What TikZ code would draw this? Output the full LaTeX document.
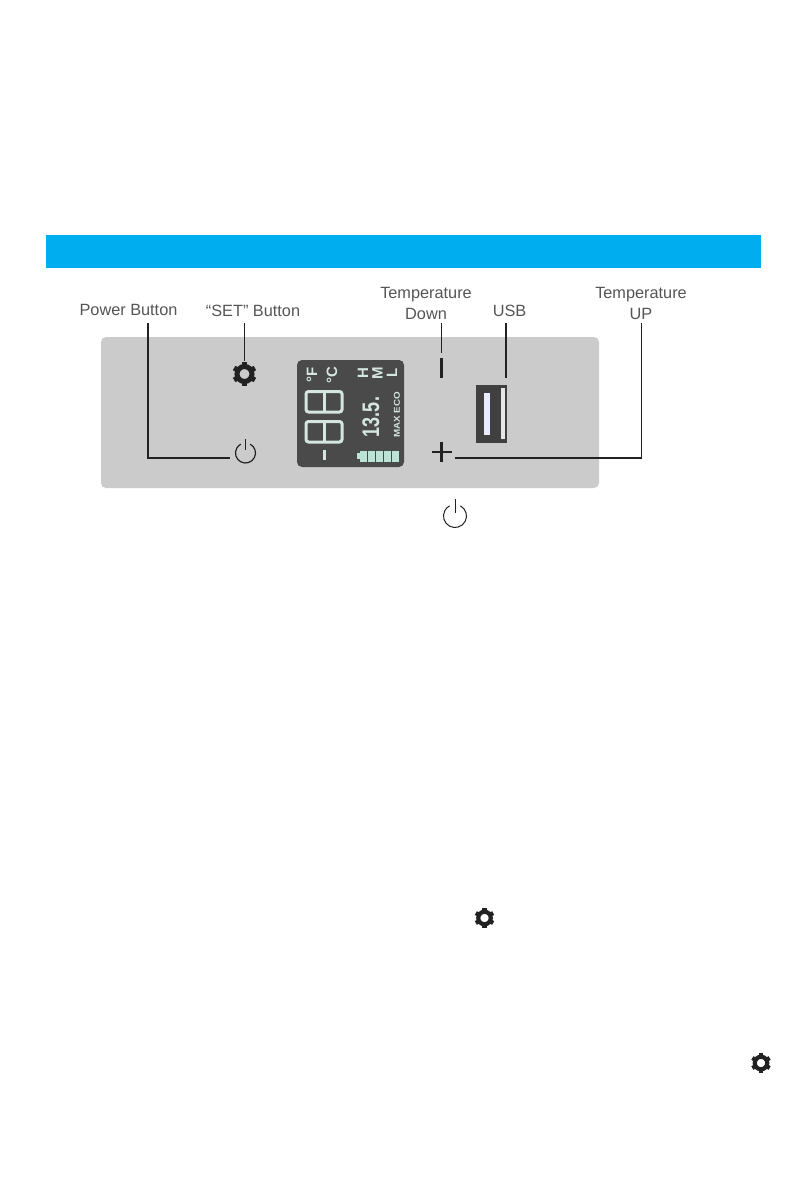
\documentclass[tikz,border=0pt]{standalone}
\usepackage{fontspec}
\setmainfont{Liberation Sans}
\usetikzlibrary{positioning, calc}

\definecolor{barblue}{HTML}{00AEEF}
\definecolor{panelgray}{HTML}{CBCBCB}
\definecolor{lcdgray}{HTML}{4A4A4A}
\definecolor{lcdlight}{HTML}{D5E6E0}
\definecolor{lcdgreen}{HTML}{BDE3D6}
\definecolor{labelgray}{HTML}{555555}
\definecolor{leadblack}{HTML}{222222}

\tikzset{
    btnlabel/.style={text=labelgray, font=\fontsize{16.3}{21}\selectfont, align=center, inner sep=0pt},
    leader/.style={draw=leadblack, line width=1.8pt},
    lcdtext/.style={text=lcdlight, rotate=90, inner sep=0pt},
    lcdseg/.style={draw=lcdlight, line width=3pt, rounded corners=2.5pt},
    iconspot/.style={circle, inner sep=0pt, outer sep=0pt}
}

% gear: name, position, outer radius
\newcommand{\gearicon}[3]{
    \node[iconspot, draw=leadblack, line width=#3*0.42pt, minimum size=#3*1.25pt] (#1) at (#2) {};
    \foreach \a in {30,90,...,330}
        \draw[leadblack, line width=#3*0.42pt] ($(#1)+(\a:#3*0.72)$) -- ($(#1)+(\a:#3)$);
}
% power symbol: name, position, radius, stem top, line width
\newcommand{\powericon}[5]{
    \node[iconspot, minimum size=#3*2pt] (#1) at (#2) {};
    \draw[leadblack, line width=#5] (#1.62) arc[start angle=62, end angle=-242, radius=#3*1pt];
    \draw[leadblack, line width=#5] ($(#1)+(0,-#4)$) -- ($(#1)+(0,-#3*0.3)$);
}

\begin{document}
\begin{tikzpicture}[x=1pt, y=-1pt]
    \useasboundingbox (0,0) rectangle (806,1185);

    % Title bar and panel
    \node[fill=barblue, minimum width=715pt, minimum height=33pt, inner sep=0pt] (titleBar) at (403.5,251.5) {};
    \node[fill=panelgray, rounded corners=5pt, minimum width=498pt, minimum height=151pt, inner sep=0pt] (panel) at (350,412.5) {};

    % Display
    \node[fill=lcdgray, rounded corners=5pt, minimum width=107pt, minimum height=107pt, inner sep=0pt] (lcd) at (350.5,413.5) {};
    \node[lcdtext, font=\bfseries\fontsize{15}{15}\selectfont] (unitF) at (312,375) {°F};
    \node[lcdtext, font=\bfseries\fontsize{15}{15}\selectfont] (unitC) at (332,375) {°C};
    \node[lcdtext, font=\bfseries\fontsize{15}{15}\selectfont] (levelH) at (363,373) {H};
    \node[lcdtext, font=\bfseries\fontsize{15}{15}\selectfont] (levelM) at (377.5,373) {M};
    \node[lcdtext, font=\bfseries\fontsize{15}{15}\selectfont] (levelL) at (392,373) {L};
    \node[lcdtext, font=\bfseries\fontsize{24}{24}\selectfont, xscale=0.75] (voltage) at (371,417) {13.5.};
    \node[lcdtext, font=\bfseries\fontsize{8.5}{9}\selectfont, xscale=1.15] (modeText) at (397,415) {MAX ECO};

    % Display digits
    \foreach \y in {390,420} {
        \draw[lcdseg] (306,\y+1.5) rectangle (342,\y+22);
        \draw[lcdseg] (324,\y+1.5) -- (324,\y+22);
    }

    % Battery
    \fill[lcdlight] (323,450) rectangle (326,460);
    \fill[lcdgreen] (357,453) rectangle (360,459);
    \foreach \x in {360,368,...,392}
        \fill[lcdgreen] (\x,450.5) rectangle (\x+6.5,461.5);

    % Buttons
    \gearicon{setBtn}{244.5,374}{12}
    \powericon{powerBtn}{245.5,453}{10}{14}{1.2pt}
    \node[iconspot, minimum size=22pt] (plusBtn) at (441.5,452) {};
    \draw[leadblack, line width=2.6pt] (431.5,452) -- (451.5,452);
    \draw[leadblack, line width=2.6pt] (441.5,442) -- (441.5,462);
    \node[iconspot, minimum width=3pt, minimum height=20pt, rectangle, fill=leadblack] (minusBtn) at (441.5,368) {};

    % USB port
    \node[fill=black!75, minimum width=31pt, minimum height=58pt, inner sep=0pt] (usbPort) at (491.5,414) {};
    \fill[black!75] (490,392) rectangle (500,436);
    \fill[white!92!blue] (483.5,393) rectangle (490,435);
    \fill[white!90!black] (500.5,388) rectangle (505,439);

    % Labels
    \node[btnlabel] (powerLabel) at (128.5,310) {Power Button};
    \node[btnlabel] (setLabel) at (253,311) {“SET” Button};
    \node[btnlabel] (downLabel) at (426,303.5) {Temperature\\Down};
    \node[btnlabel] (usbLabel) at (509.5,311) {USB};
    \node[btnlabel] (upLabel) at (641,303.5) {Temperature\\UP};

    % Leader ends
    \coordinate (powerTop) at (148,323);
    \coordinate (powerEnd) at (230,458);
    \coordinate (setTop) at (244.5,323);
    \coordinate (setEnd) at (244.5,361);
    \coordinate (downTop) at (441.5,323);
    \coordinate (downEnd) at (441.5,353);
    \coordinate (usbTop) at (506,323);
    \coordinate (usbEnd) at (506,378);
    \coordinate (upTop) at (641.5,323);
    \coordinate (plusEnd) at (455,458);

    % Leaders
    \draw[leader] (powerTop) |- (powerEnd);
    \draw[leader] (setTop) -- (setEnd);
    \draw[leader] (downTop) -- (downEnd);
    \draw[leader] (usbTop) -- (usbEnd);
    \draw[leader] (upTop) |- (plusEnd);

    % Symbols in the page text
    \powericon{powerMark}{455,516}{11.5}{17}{1pt}
    \gearicon{gearMarkA}{484.5,918}{10}
    \gearicon{gearMarkB}{761,1063}{10}

\end{tikzpicture}
\end{document}
